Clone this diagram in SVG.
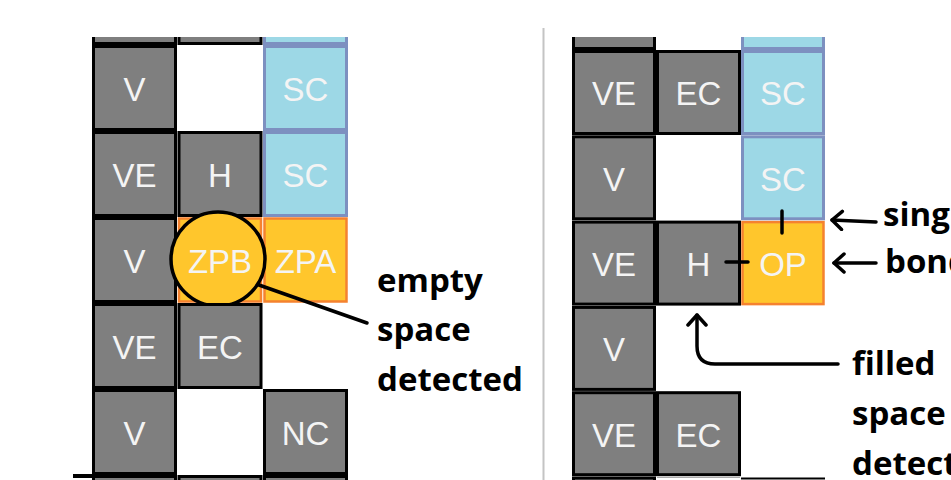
<svg xmlns="http://www.w3.org/2000/svg" width="951" height="480" viewBox="0 0 951 480">
<style>
.g{fill:#7f7f7f;stroke:#000;stroke-width:3}
.sc{fill:#9dd8e6;stroke:#7d90c0;stroke-width:3}
.op{fill:#ffc62c;stroke:#f5822f;stroke-width:2.5}
.lbl{font-family:"Liberation Sans",Arial,sans-serif;font-size:33px;fill:#f4f4f4;text-anchor:middle}
.note{font-family:"Open Sans","Liberation Sans",sans-serif;font-weight:bold;font-size:33px;fill:#000}
.ln{fill:none;stroke:#000;stroke-width:3.5;stroke-linecap:round;stroke-linejoin:round}
</style>
<defs>
<clipPath id="clip"><rect x="0" y="37" width="951" height="443"/></clipPath>
<marker id="chev" viewBox="0 0 16 22" refX="13" refY="11" markerWidth="16" markerHeight="22" markerUnits="userSpaceOnUse" orient="auto">
<path d="M3,2 L13,11 L3,20" fill="none" stroke="#000" stroke-width="3.5" stroke-linecap="round" stroke-linejoin="round"/>
</marker>
</defs>
<rect width="951" height="480" fill="#fff"/>
<line x1="543.5" y1="28" x2="543.5" y2="480" stroke="#c4c4c4" stroke-width="2"/>
<g clip-path="url(#clip)">
<!-- left grid -->
<g id="L-top"><rect class="g" x="93.5" y="-39.5" width="82" height="83"/><rect class="g" x="179" y="-39.5" width="82" height="83"/><rect class="sc" x="264.5" y="-39.5" width="82" height="83"/></g>
<g id="L-V1"><rect class="g" x="93.5" y="46.5" width="82" height="83"/><text class="lbl" x="134.5" y="101">V</text></g>
<g id="L-SC1"><rect class="sc" x="264.5" y="46.5" width="82" height="83"/><text class="lbl" x="305.5" y="101">SC</text></g>
<g id="L-VE2"><rect class="g" x="93.5" y="132.5" width="82" height="83"/><text class="lbl" x="134.5" y="187">VE</text></g>
<g id="L-H2"><rect class="g" x="179" y="132.5" width="82" height="83"/><text class="lbl" x="220" y="187">H</text></g>
<g id="L-SC2"><rect class="sc" x="264.5" y="132.5" width="82" height="83"/><text class="lbl" x="305.5" y="187">SC</text></g>
<g id="L-V3"><rect class="g" x="93.5" y="218.5" width="82" height="83"/><text class="lbl" x="134.5" y="273">V</text></g>
<g id="L-ZPA"><rect class="op" x="264.5" y="218.5" width="82" height="83"/><text class="lbl" x="305.5" y="273">ZPA</text></g>
<g id="L-ZPB"><rect class="op" x="179" y="218.5" width="82" height="83"/><circle cx="218" cy="259" r="47" fill="#ffc62c" stroke="#000" stroke-width="3.5"/><text class="lbl" x="220" y="273">ZPB</text></g>
<g id="L-VE4"><rect class="g" x="93.5" y="304.5" width="82" height="83"/><text class="lbl" x="134.5" y="359">VE</text></g>
<g id="L-EC4"><rect class="g" x="179" y="304.5" width="82" height="83"/><text class="lbl" x="220" y="359">EC</text></g>
<g id="L-V5"><rect class="g" x="93.5" y="390.5" width="82" height="83"/><text class="lbl" x="134.5" y="445">V</text></g>
<g id="L-NC5"><rect class="g" x="264.5" y="390.5" width="82" height="83"/><text class="lbl" x="305.5" y="445">NC</text></g>
<g id="L-bottom"><rect x="73" y="474" width="20" height="4" fill="#000"/><rect class="g" x="93.5" y="476.5" width="82" height="83"/><rect class="g" x="179" y="476.5" width="82" height="83"/><rect class="g" x="264.5" y="476.5" width="82" height="83"/></g>
<!-- right grid -->
<g id="R-top"><rect class="g" x="573.5" y="-35.5" width="81" height="84"/><rect class="sc" x="742.5" y="-35.5" width="81" height="84"/></g>
<g id="R-VE1"><rect class="g" x="573.5" y="51.5" width="81" height="82"/><text class="lbl" x="614" y="105">VE</text></g>
<g id="R-EC1"><rect class="g" x="657.5" y="51.5" width="82" height="82"/><text class="lbl" x="698.5" y="105">EC</text></g>
<g id="R-SC1"><rect class="sc" x="742.5" y="51.5" width="81" height="82"/><text class="lbl" x="783" y="105">SC</text></g>
<g id="R-V2"><rect class="g" x="573.5" y="136.8" width="81" height="82"/><text class="lbl" x="614" y="190.5">V</text></g>
<g id="R-SC2"><rect class="sc" x="742.5" y="136.8" width="81" height="82"/><text class="lbl" x="783" y="190.5">SC</text></g>
<g id="R-VE3"><rect class="g" x="573.5" y="222.1" width="81" height="82"/><text class="lbl" x="614" y="276">VE</text></g>
<g id="R-H3"><rect class="g" x="657.5" y="222.1" width="82" height="82"/><text class="lbl" x="698.5" y="276">H</text></g>
<g id="R-OP3"><rect class="op" x="742.5" y="222.1" width="81" height="82"/><text class="lbl" x="783" y="276">OP</text></g>
<g id="R-V4"><rect class="g" x="573.5" y="307.4" width="81" height="82"/><text class="lbl" x="614" y="361">V</text></g>
<g id="R-VE5"><rect class="g" x="573.5" y="392.7" width="81" height="82"/><text class="lbl" x="614" y="446.5">VE</text></g>
<g id="R-EC5"><rect class="g" x="657.5" y="392.7" width="82" height="82"/><text class="lbl" x="698.5" y="446.5">EC</text></g>
<g id="R-bottom"><rect class="g" x="573.5" y="478" width="81" height="82"/><line x1="657" y1="477.5" x2="740" y2="477.5" stroke="#aaa" stroke-width="1"/><line x1="741" y1="478.5" x2="825" y2="478.5" stroke="#000" stroke-width="2"/></g>
</g>
<!-- connectors -->
<g id="connectors">
<line class="ln" x1="259" y1="285" x2="367" y2="323"/>
<line class="ln" x1="782" y1="211" x2="782" y2="233"/>
<line class="ln" x1="726" y1="262" x2="748" y2="262"/>
<path class="ln" d="M876,222 L832,220" marker-end="url(#chev)"/>
<path class="ln" d="M876,263 L834,263" marker-end="url(#chev)"/>
<path class="ln" d="M838,364 H715 Q697,364 697,346 V315" marker-end="url(#chev)"/>
</g>
<g id="notes">
<text class="note" x="377" y="292">empty</text>
<text class="note" x="377" y="341">space</text>
<text class="note" x="377" y="391">detected</text>
<text class="note" x="883" y="226">single</text>
<text class="note" x="885" y="273">bond</text>
<text class="note" x="852" y="375">filled</text>
<text class="note" x="852" y="425">space</text>
<text class="note" x="852" y="475">detected</text>
</g>
</svg>
